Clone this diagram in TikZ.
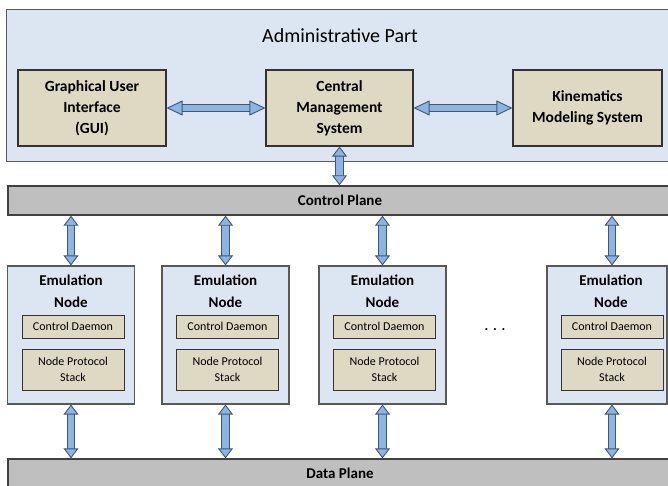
\documentclass[tikz,border=0pt]{standalone}
\usepackage{fontspec}
\setmainfont{Carlito}
\usepackage{xcolor}
\usetikzlibrary{arrows.meta}
\usetikzlibrary{positioning}
\definecolor{adminblue}{HTML}{DCE6F2}
\definecolor{boxtan}{HTML}{DDD9C3}
\definecolor{planegray}{HTML}{BFBFBF}
\definecolor{arrowfill}{HTML}{8EB4E3}
\definecolor{arrowedge}{HTML}{3F5670}
\colorlet{edgecolor}{black!65}
\tikzstyle{partbox} = [
    draw=edgecolor,
    fill=adminblue,
    line width=1.1pt,
    rectangle,
    inner sep=0pt
    ]
\tikzstyle{sysbox} = [
    draw=black!80,
    fill=boxtan,
    line width=1.1pt,
    rectangle,
    align=center,
    minimum height=76pt,
    font=\bfseries\fontsize{15.5}{21}\selectfont
    ]
\tikzstyle{planebar} = [
    draw=black!75,
    fill=planegray,
    line width=1.3pt,
    rectangle,
    minimum width=664pt,
    font=\bfseries\fontsize{15}{17}\selectfont
    ]
\tikzstyle{emutitle} = [
    align=center,
    inner sep=0pt,
    font=\bfseries\fontsize{15}{22}\selectfont
    ]
\tikzstyle{partbox2} = [
    draw=black!80,
    fill=boxtan,
    line width=1pt,
    rectangle,
    align=center,
    minimum width=102pt,
    inner sep=0pt,
    font=\fontsize{12}{16}\selectfont
    ]
\tikzstyle{harrow} = [
    preaction={draw=arrowedge, line width=7.6pt, -, shorten <=13pt, shorten >=13pt},
    draw=arrowfill,
    line width=5.6pt,
    {Triangle[width=15pt,length=16pt,fill=arrowfill,color=arrowedge,line width=0.9pt]}-{Triangle[width=15pt,length=16pt,fill=arrowfill,color=arrowedge,line width=0.9pt]}
    ]
\tikzstyle{varrow} = [
    preaction={draw=arrowedge, line width=8.6pt, -, shorten <=8pt, shorten >=8pt},
    draw=arrowfill,
    line width=6.6pt,
    {Triangle[width=15pt,length=10pt,fill=arrowfill,color=arrowedge,line width=0.9pt]}-{Triangle[width=15pt,length=10pt,fill=arrowfill,color=arrowedge,line width=0.9pt]}
    ]

\begin{document}
\begin{tikzpicture}[x=1pt,y=-1pt]
\useasboundingbox (0,0) rectangle (668,486);
% administrative part
\node [partbox, minimum width=666pt, minimum height=152pt, anchor=north west] (admin) at (6,9) {};
\node [font=\fontsize{20}{22}\selectfont] (admintitle) at (340,36) {Administrative Part};
\node [sysbox, minimum width=148pt] (gui) at (92,108) {Graphical User\\Interface\\(GUI)};
\node [sysbox, minimum width=147pt] (cms) at (339.5,108) {Central\\Management\\System};
\node [sysbox, minimum width=149pt] (kms) at (587.5,108) {Kinematics\\Modeling System};
\draw [harrow] (gui) -- (cms);
\draw [harrow] (cms) -- (kms);

% planes
\node [planebar, minimum height=29pt] (ctrlplane) at (340,200.5) {Control Plane};
\node [planebar, minimum height=28pt] (dataplane) at (340,473) {Data Plane};
\draw [varrow] (cms.south) -- (cms.south |- ctrlplane.north);

% emulation nodes
\node [partbox, minimum width=127pt, minimum height=138pt] (emu1) at (71,335) {};
\node [emutitle] (emutitle1) at (71,291) {Emulation\\Node};
\node [partbox2, minimum height=23pt] (daemon1) at (73,326.5) {Control Daemon};
\node [partbox2, minimum height=41pt, below=10pt of daemon1] (stack1) {Node Protocol\\Stack};

\node [partbox, minimum width=127pt, minimum height=138pt] (emu2) at (225.5,335) {};
\node [emutitle] (emutitle2) at (225.5,291) {Emulation\\Node};
\node [partbox2, minimum height=23pt] (daemon2) at (227.5,326.5) {Control Daemon};
\node [partbox2, minimum height=41pt, below=10pt of daemon2] (stack2) {Node Protocol\\Stack};

\node [partbox, minimum width=127pt, minimum height=138pt] (emu3) at (382.5,335) {};
\node [emutitle] (emutitle3) at (382.5,291) {Emulation\\Node};
\node [partbox2, minimum height=23pt] (daemon3) at (384.5,326.5) {Control Daemon};
\node [partbox2, minimum height=41pt, below=10pt of daemon3] (stack3) {Node Protocol\\Stack};

\node [partbox, minimum width=120pt, minimum height=138pt] (emu4) at (607,335) {};
\node [emutitle] (emutitle4) at (611,291) {Emulation\\Node};
\node [partbox2, minimum height=23pt] (daemon4) at (612,326.5) {Control Daemon};
\node [partbox2, minimum height=41pt, below=10pt of daemon4] (stack4) {Node Protocol\\Stack};

\node [font=\bfseries\fontsize{14}{16}\selectfont] (dots) at (495,330) {.\,\,.\,\,.};

\draw [varrow] (emu1.north |- ctrlplane.south) -- (emu1.north);
\draw [varrow] (emu2.north |- ctrlplane.south) -- (emu2.north);
\draw [varrow] (emu3.north |- ctrlplane.south) -- (emu3.north);
\draw [varrow] ([xshift=5pt]emu4.north |- ctrlplane.south) -- ([xshift=5pt]emu4.north);
\draw [varrow] (emu1.south) -- (emu1.south |- dataplane.north);
\draw [varrow] (emu2.south) -- (emu2.south |- dataplane.north);
\draw [varrow] (emu3.south) -- (emu3.south |- dataplane.north);
\draw [varrow] ([xshift=5pt]emu4.south) -- ([xshift=5pt]emu4.south |- dataplane.north);
\end{tikzpicture}
\end{document}
